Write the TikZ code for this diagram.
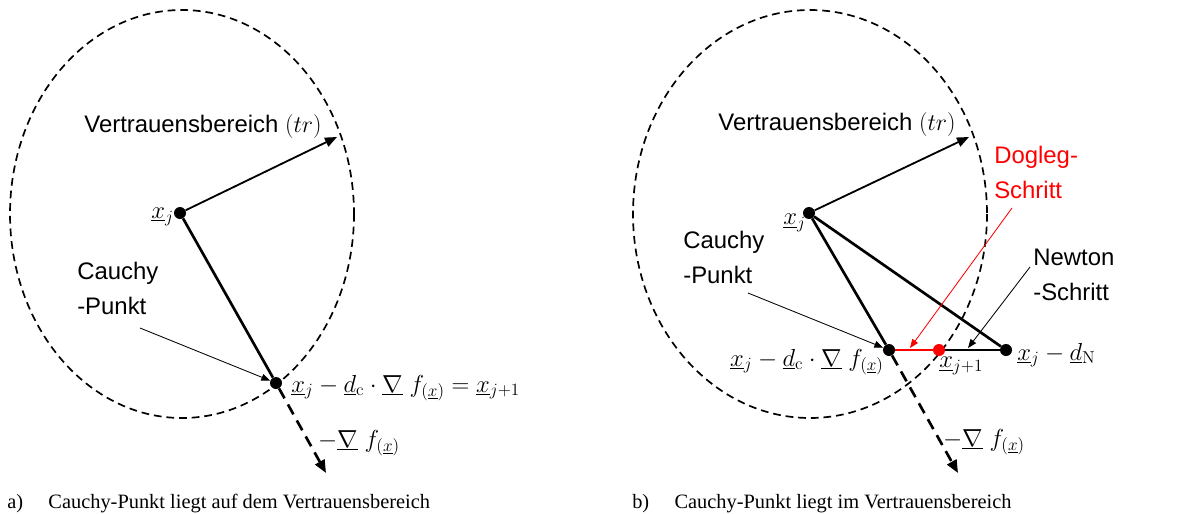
\documentclass[tikz,border=0pt]{standalone}
\usepackage{fix-cm}
\usepackage[no-math]{fontspec}
\setmainfont{Liberation Serif}
\setsansfont{Liberation Sans}
\usetikzlibrary{arrows.meta,positioning}
\tikzset{
  punkt/.style={circle, fill=black, inner sep=0pt, minimum size=3mm},
  rotpunkt/.style={punkt, fill=red},
  tr/.style={line width=1.2pt, dash pattern=on 5.5pt off 3.5pt},
  schritt/.style={line width=1.9pt},
  radius arrow/.style={line width=1.3pt, -{Triangle[length=3mm, width=2.4mm]}},
  grad arrow/.style={line width=1.9pt, dash pattern=on 8pt off 5pt, -{Triangle[length=3.2mm, width=2.6mm]}},
  hinweis/.style={line width=0.6pt, -{Triangle[length=2.2mm, width=1.7mm]}},
  lbl/.style={font=\sffamily\fontsize{17}{25}\selectfont, align=left, inner sep=0pt},
  formel/.style={font=\fontsize{17.5}{20}\selectfont, inner sep=0pt},
  caption/.style={font=\fontsize{14.5}{17}\selectfont, inner sep=0pt, anchor=base west}
}
\begin{document}
\begin{tikzpicture}[x=0.025cm, y=-0.025cm]
\useasboundingbox (0,0) rectangle (1203,513);
% a) Cauchy-Punkt auf dem Rand
\draw[tr] (182,214) ellipse [x radius=172, y radius=204];
\node[punkt] (xa) at (180,213) {};
\node[punkt] (ca) at (276,383) {};
\coordinate (tra) at (337,137);
\coordinate (ga) at (326,473);
\draw[radius arrow] (xa) -- (tra);
\draw[schritt] (xa) -- (ca);
\draw[grad arrow] (ca) -- (ga);
\node[lbl] (tra-l) at (203,127) {Vertrauensbereich $(tr)$};
\node[formel, anchor=east] (xa-l) at (174,217) {$\underline{x}_j$};
\node[lbl, anchor=north west] (cpa) at (77,262) {Cauchy\\-Punkt};
\coordinate (cpa-s) at (140,328);
\draw[hinweis] (cpa-s) -- (ca);
\node[formel, anchor=west] (ca-l) at (291,388)
  {$\underline{x}_j - \underline{d}_{\mathrm{c}} \cdot \underline{\nabla}\; f_{(\underline{x})} = \underline{x}_{j+1}$};
\node[formel] (ga-l) at (359,443) {$-\underline{\nabla}\; f_{(\underline{x})}$};
\node[caption] (cap-a) at (7,508) {a)\hspace{18pt}Cauchy-Punkt liegt auf dem Vertrauensbereich};
% b) Cauchy-Punkt im Inneren, Dogleg
\draw[tr] (810,214) ellipse [x radius=177, y radius=204];
\node[punkt] (xb) at (809,213) {};
\node[punkt] (cb) at (889,350) {};
\node[rotpunkt] (nb) at (939,350) {};
\node[punkt] (db) at (1006,350) {};
\coordinate (trb) at (969,137);
\coordinate (gb) at (958,473);
\draw[radius arrow] (xb) -- (trb);
\draw[schritt] (xb) -- (cb);
\draw[schritt] (xb) -- (db);
\draw[schritt, red] (cb) -- (nb);
\draw[schritt] (nb) -- (db);
\draw[grad arrow] (cb) -- (gb);
\node[lbl] (trb-l) at (837,125) {Vertrauensbereich $(tr)$};
\node[formel, anchor=north east] (xb-l) at (806,214) {$\underline{x}_j$};
\node[lbl, anchor=north west] (cpb) at (683,231) {Cauchy\\-Punkt};
\coordinate (cpb-s) at (748,293);
\draw[hinweis] (cpb-s) -- (cb);
\node[lbl, anchor=north west, text=red] (dlb) at (994,146) {Dogleg-\\Schritt};
\coordinate (dlb-s) at (1012,208);
\coordinate (dlb-e) at (910,348);
\draw[hinweis, red] (dlb-s) -- (dlb-e);
\node[lbl, anchor=north west] (nsb) at (1033,249) {Newton\\-Schritt};
\coordinate (nsb-s) at (1030,267);
\coordinate (nsb-e) at (968,348);
\draw[hinweis] (nsb-s) -- (nsb-e);
\node[formel, anchor=east] (cb-l) at (884,362)
  {$\underline{x}_j - \underline{d}_{\mathrm{c}} \cdot \underline{\nabla}\; f_{(\underline{x})}$};
\node[formel, anchor=north west] (nb-l) at (939,357) {$\underline{x}_{j+1}$};
\node[formel, anchor=west] (db-l) at (1017,355) {$\underline{x}_j - \underline{d}_{\mathrm{N}}$};
\node[formel] (gb-l) at (984,442) {$-\underline{\nabla}\; f_{(\underline{x})}$};
\node[caption] (cap-b) at (632,508) {b)\hspace{18pt}Cauchy-Punkt liegt im Vertrauensbereich};
\end{tikzpicture}
\end{document}
